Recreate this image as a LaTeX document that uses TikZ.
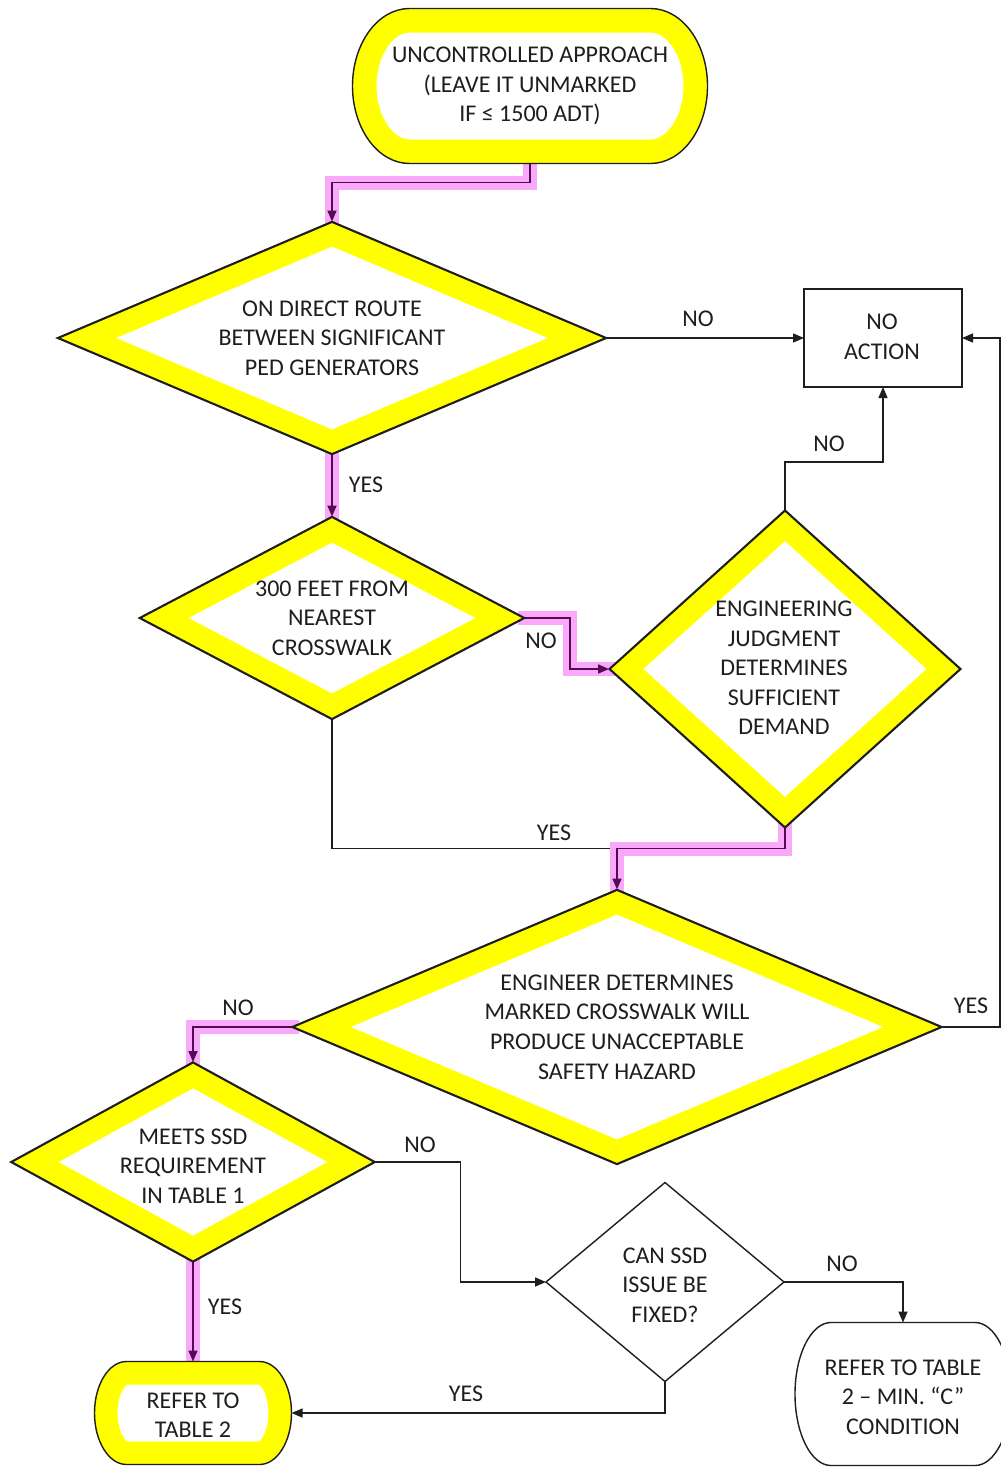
\documentclass[tikz,border=0pt]{standalone}
\usepackage{fontspec}
\setmainfont{Carlito}
\usetikzlibrary{shapes.geometric,arrows.meta,calc}
\definecolor{hlpink}{RGB}{250,168,250}
\definecolor{hlline}{RGB}{85,10,85}
\definecolor{ink}{RGB}{30,30,30}
\definecolor{hly}{RGB}{255,255,0}
\pgfdeclarelayer{bg}
\pgfsetlayers{bg,main}
\begin{document}
\begin{tikzpicture}[x=1pt,y=-1pt,
  font=\fontsize{24pt}{29.6pt}\selectfont,
  base/.style={draw=ink, line width=1.4pt, fill=white, inner sep=0pt, outer sep=0pt},
  dia/.style={base, shape=diamond},
  hldia/.style={dia, path picture={
      \draw[hly, line width=46pt, line join=miter]
      (path picture bounding box.north) -- (path picture bounding box.east) --
      (path picture bounding box.south) -- (path picture bounding box.west) -- cycle;
      \draw[ink, line width=2.8pt, line join=miter]
      (path picture bounding box.north) -- (path picture bounding box.east) --
      (path picture bounding box.south) -- (path picture bounding box.west) -- cycle;}},
  boxnode/.style={base, shape=rectangle},
  anchorbox/.style={shape=rectangle, draw=none, inner sep=0pt, outer sep=0pt},
  txt/.style={align=center, text=ink, inner sep=0pt},
  lbl/.style={text=ink, inner sep=0pt},
  ln/.style={draw=ink, line width=1.4pt},
  arr/.style={ln, -{Triangle[length=11pt,width=9pt]}},
  hl/.style={preaction={draw=hlpink, line width=14pt, line cap=rect, -},
      draw=hlline, line width=1.6pt, -{Triangle[length=11pt,width=9pt]}}
]
\useasboundingbox (0,0) rectangle (1001,1467);
\begin{pgfonlayer}{bg}
\fill[white] (0,0) rectangle (1001,1467);
\end{pgfonlayer}

% ---------- terminators (anchor boxes) ----------
\node[anchorbox, minimum width=355pt, minimum height=155pt] (t0) at (530,86) {};
\node[anchorbox, minimum width=197pt, minimum height=103pt] (t2) at (193,1413) {};
\node[anchorbox, minimum width=216pt, minimum height=143pt] (t3) at (903,1394) {};

\def\tzero{([xshift=57pt]t0.north west) -- ([xshift=-57pt]t0.north east)
  arc[start angle=90,end angle=-90,x radius=57pt,y radius=77.5pt]
  -- ([xshift=57pt]t0.south west)
  arc[start angle=270,end angle=90,x radius=57pt,y radius=77.5pt] -- cycle}
\def\ttwo{([xshift=32pt]t2.north west) -- ([xshift=-32pt]t2.north east)
  arc[start angle=90,end angle=-90,x radius=32pt,y radius=51.5pt]
  -- ([xshift=32pt]t2.south west)
  arc[start angle=270,end angle=90,x radius=32pt,y radius=51.5pt] -- cycle}
\def\tthree{([xshift=36pt]t3.north west) -- ([xshift=-36pt]t3.north east)
  arc[start angle=90,end angle=-90,x radius=36pt,y radius=71.5pt]
  -- ([xshift=36pt]t3.south west)
  arc[start angle=270,end angle=90,x radius=36pt,y radius=71.5pt] -- cycle}

\begin{scope}
  \clip \tzero;
  \fill[white] \tzero;
  \draw[hly, line width=48pt] \tzero;
\end{scope}
\draw[ink, line width=1.4pt] \tzero;
\begin{scope}
  \clip \ttwo;
  \fill[white] \ttwo;
  \draw[hly, line width=46pt] \ttwo;
\end{scope}
\draw[ink, line width=1.4pt] \ttwo;
\draw[ink, line width=1.4pt, fill=white] \tthree;

\node[txt] (t0t) at (530,86) {UNCONTROLLED APPROACH\\(LEAVE IT UNMARKED\\IF ≤ 1500 ADT)};
\node[txt] (t2t) at (193,1415) {REFER TO\\TABLE 2};
\node[txt] (t3t) at (903,1397) {REFER TO TABLE\\2 – MIN. “C”\\CONDITION};

% ---------- decisions ----------
\node[hldia, minimum width=550pt, minimum height=233pt] (d1) at (332,338) {};
\node[txt] (d1t) at (d1) {ON DIRECT ROUTE\\BETWEEN SIGNIFICANT\\PED GENERATORS};

\node[hldia, minimum width=386pt, minimum height=203pt] (d2) at (332,618) {};
\node[txt] (d2t) at (d2) {300 FEET FROM\\NEAREST\\CROSSWALK};

\node[hldia, minimum width=352pt, minimum height=318pt] (d3) at (785,669) {};
\node[txt] (d3t) at (784,668) {ENGINEERING\\JUDGMENT\\DETERMINES\\SUFFICIENT\\DEMAND};

\node[hldia, minimum width=651pt, minimum height=275pt] (d4) at (617,1027) {};
\node[txt] (d4t) at (617,1027) {ENGINEER DETERMINES\\MARKED CROSSWALK WILL\\PRODUCE UNACCEPTABLE\\SAFETY HAZARD};

\node[hldia, minimum width=365pt, minimum height=200pt] (d5) at (193,1162) {};
\node[txt] (d5t) at (193,1166) {MEETS SSD\\REQUIREMENT\\IN TABLE 1};

\node[dia, minimum width=238pt, minimum height=199pt] (d6) at (665,1282) {};
\node[txt] (d6t) at (665,1285) {CAN SSD\\ISSUE BE\\FIXED?};

% ---------- process ----------
\node[boxnode, minimum width=158pt, minimum height=98pt] (na) at (883,338) {};
\node[txt] (nat) at (882,337) {NO\\ACTION};

% ---------- connector labels ----------
\node[lbl] (l1) at (698,319) {NO};
\node[lbl] (l2) at (366,485) {YES};
\node[lbl] (l3) at (541,641) {NO};
\node[lbl] (l4) at (829,444) {NO};
\node[lbl] (l5) at (554,833) {YES};
\node[lbl] (l6) at (238,1008) {NO};
\node[lbl] (l7) at (971,1006) {YES};
\node[lbl] (l8) at (420,1145) {NO};
\node[lbl] (l9) at (225,1307) {YES};
\node[lbl] (l10) at (842,1264) {NO};
\node[lbl] (l11) at (466,1394) {YES};

% ---------- connectors ----------
\coordinate (j) at ($(d4.north)+(0,-41)$);
\coordinate (loop) at ($(d4.east)+(57.5,0)$);
\begin{pgfonlayer}{bg}
  \draw[ln] (d2.south) |- (j);
  \draw[hl] (t0.south) -- ++(0,19) -| (d1.north);
  \draw[hl] (d1.south) -- (d2.north);
  \draw[hl] (d2.east) -- ++(45,0) |- (d3.west);
  \draw[hl] (d3.south) |- (j) -- (d4.north);
  \draw[hl] (d4.west) -| (d5.north);
  \draw[hl] (d5.south) -- (t2.north);
  \draw[arr] (d1.east) -- (na.west);
  \draw[arr] (d3.north) -- ++(0,-48) -| (na.south);
  \draw[arr] (d4.east) -- (loop) |- (na.east);
  \draw[arr] (d5.east) -- ++(85,0) |- (d6.west);
  \draw[arr] (d6.east) -| (t3.north);
  \draw[arr] (d6.south) |- (t2.east);
\end{pgfonlayer}
\end{tikzpicture}
\end{document}
